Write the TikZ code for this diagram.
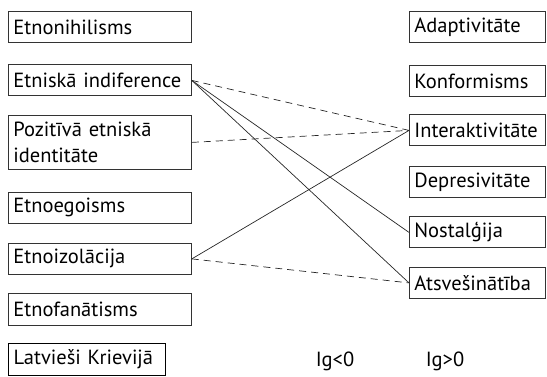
\documentclass[tikz,border=0pt]{standalone}
\usepackage{fontspec}
\setmainfont{PT Sans}
\begin{document}
\begin{tikzpicture}[x=1pt,y=-1pt,
  box/.style={draw=black!80, line width=0.8pt, anchor=north west, inner xsep=5pt, inner ysep=0pt,
    align=left, font=\fontsize{20.5}{26}\selectfont},
  lbox/.style={box, text width=173pt, minimum height=31pt},
  rbox/.style={box, text width=126pt, minimum height=31pt},
  lbl/.style={font=\fontsize{20.5}{26}\selectfont},
  conn/.style={line width=0.7pt, draw=black!85},
  dconn/.style={conn, dash pattern=on 7pt off 5pt}]
\useasboundingbox (0,0) rectangle (547,377);
% left column
\node[lbox] (a1) at (8,11) {Etnonihilisms};
\node[lbox] (a2) at (8,64.5) {Etniskā indiference};
\node[lbox, minimum height=54pt] (a3) at (8,115) {Pozitīvā etniskā\\identitāte};
\node[lbox] (a4) at (8,192) {Etnoegoisms};
\node[lbox] (a5) at (8,243) {Etnoizolācija};
\node[lbox] (a6) at (8,293.5) {Etnofanātisms};
\node[box, draw=black, line width=1.4pt, minimum width=157pt, minimum height=32pt, text width=147pt] (lk) at (8,342.5) {Latvieši Krievijā};
% right column
\node[rbox] (b1) at (409,11) {Adaptivitāte};
\node[rbox] (b2) at (409,65.5) {Konformisms};
\node[rbox] (b3) at (409,114.5) {Interaktivitāte};
\node[rbox] (b4) at (409,166) {Depresivitāte};
\node[rbox] (b5) at (409,216.5) {Nostalģija};
\node[rbox] (b6) at (409,267) {Atsvešinātība};
% labels
\node[lbl] (n1) at (335,361) {Ig<0};
\node[lbl] (n2) at (445,361) {Ig>0};
% connectors
\draw[dconn] (a2.east) -- (b3.west);
\draw[conn] (a2.east) -- (b5.west);
\draw[conn] (a2.east) -- (b6.west);
\draw[dconn] (a3.east) -- (b3.west);
\draw[conn] (a5.east) -- (b3.west);
\draw[dconn] (a5.east) -- (b6.west);
\end{tikzpicture}
\end{document}
